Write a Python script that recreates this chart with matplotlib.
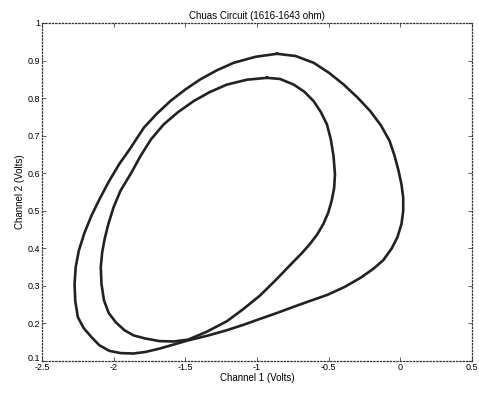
import matplotlib
matplotlib.use("Agg")
import matplotlib.pyplot as plt
from matplotlib.transforms import ScaledTranslation

plt.rcParams['font.family'] = ['Liberation Sans', 'DejaVu Sans']

title = "Chuas Circuit (1616-1643 ohm)"
xlabel = "Channel 1 (Volts)"
ylabel = "Channel 2 (Volts)"
xticks = [-2.5, -2, -1.5, -1, -0.5, 0, 0.5]
xticklabels = ["-2.5", "-2", "-1.5", "-1", "-0.5", "0", "0.5"]
yticks = [0.1, 0.2, 0.3, 0.4, 0.5, 0.6, 0.7, 0.8, 0.9, 1]
yticklabels = ["0.1", "0.2", "0.3", "0.4", "0.5", "0.6", "0.7", "0.8", "0.9", "1"]

outer_x = [-0.86, -0.73, -0.605, -0.5, -0.395, -0.3, -0.209, -0.135, -0.075, -0.04, -0.012,
           0.008, 0.02, 0.02, 0.008, -0.02, -0.06, -0.12, -0.19, -0.28, -0.39, -0.51,
           -0.63, -0.747, -0.86, -0.98, -1.09, -1.21, -1.34, -1.48, -1.58, -1.68, -1.78,
           -1.863, -1.95, -2.03, -2.10, -2.156, -2.21, -2.25, -2.268, -2.273, -2.265,
           -2.243, -2.205, -2.155, -2.10, -2.035, -1.96, -1.886, -1.79, -1.70,
           -1.605, -1.50, -1.395, -1.28, -1.163, -1.01, -0.86]
outer_y = [0.918, 0.912, 0.894, 0.868, 0.836, 0.802, 0.765, 0.727, 0.686, 0.646, 0.606,
           0.57, 0.535, 0.50, 0.465, 0.43, 0.40, 0.368, 0.345, 0.321, 0.297, 0.276,
           0.26, 0.244, 0.228, 0.212, 0.197, 0.182, 0.168, 0.155, 0.144, 0.133, 0.124,
           0.12, 0.121, 0.127, 0.142, 0.164, 0.188, 0.217, 0.26, 0.305, 0.35,
           0.394, 0.44, 0.487, 0.53, 0.577, 0.625, 0.665, 0.721, 0.758,
           0.792, 0.823, 0.85, 0.874, 0.894, 0.910, 0.918]

inner_x = [-0.93, -0.84, -0.744, -0.67, -0.605, -0.555, -0.512, -0.485, -0.466, -0.456,
           -0.462, -0.479, -0.503, -0.537, -0.58, -0.63, -0.69, -0.747, -0.863, -0.98, -1.10,
           -1.21, -1.35, -1.48, -1.58, -1.68, -1.78, -1.86, -1.925, -1.985,
           -2.035, -2.068, -2.085, -2.09, -2.08, -2.063, -2.037, -2.0, -1.953, -1.874, -1.814,
           -1.74, -1.651, -1.55, -1.442, -1.33, -1.21, -1.07, -0.93]
inner_y = [0.854, 0.851, 0.836, 0.817, 0.792, 0.763, 0.73, 0.69, 0.645, 0.597,
           0.56, 0.527, 0.495, 0.465, 0.437, 0.412, 0.386, 0.364, 0.318, 0.274, 0.237,
           0.206, 0.178, 0.157, 0.152, 0.153, 0.16, 0.168, 0.182, 0.203,
           0.228, 0.262, 0.305, 0.35, 0.39, 0.425, 0.465, 0.51, 0.553, 0.603, 0.645,
           0.69, 0.73, 0.763, 0.792, 0.816, 0.836, 0.849, 0.854]

fig = plt.figure(figsize=(4.79, 3.93), dpi=100)
ax = fig.add_axes([0.0877, 0.0814, 0.8977, 0.8601])

ax.plot(outer_x, outer_y, color='#222222', lw=1.9, solid_joinstyle='round')
ax.plot(inner_x, inner_y, color='#222222', lw=1.9, solid_joinstyle='round')

ax.set_xlim(-2.5, 0.5)
ax.set_ylim(0.1, 1.0)
ax.set_xticks(xticks)
ax.set_xticklabels(xticklabels)
ax.set_yticks(yticks)
ax.set_yticklabels(yticklabels)
ax.tick_params(direction='in', length=3, width=0.6, labelsize=6.5, pad=1.5,
               top=True, right=True, color='#444444')
for s in ax.spines.values():
    s.set_linestyle(':')
    s.set_linewidth(0.9)
    s.set_color('#333333')

lab01 = ax.get_yticklabels()[0]
lab01.set_transform(lab01.get_transform() + ScaledTranslation(0, 4 / 100, fig.dpi_scale_trans))

ax.set_title(title, fontsize=7, pad=3)
ax.set_xlabel(xlabel, fontsize=7, labelpad=1)
ax.set_ylabel(ylabel, fontsize=7, labelpad=2)

fig.savefig("out.png", dpi=100)
